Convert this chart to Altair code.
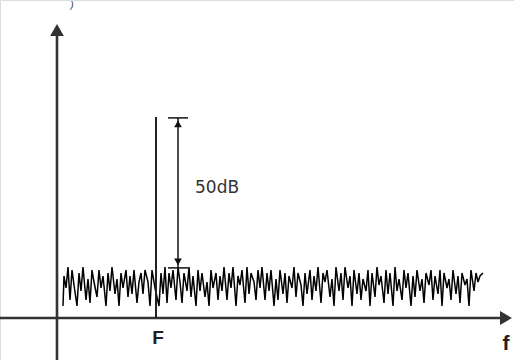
import altair as alt
import pandas as pd

# noise floor (frequency units, level in dB above the axis)
noise_f = [63, 64, 66, 68, 70, 72, 74, 77, 79, 81, 83, 86, 88, 90, 92, 94, 97, 99, 101, 103,
           106, 108, 110, 112, 115, 117, 119, 121, 123, 126, 128, 130, 132, 134, 137, 139, 141,
           143, 145, 148, 150, 152, 155, 159, 161, 163, 165, 167, 169, 171, 173, 176, 178, 180,
           182, 184, 187, 189, 191, 193, 196, 198, 200, 202, 205, 207, 209, 211, 213, 216, 218,
           220, 222, 224, 227, 229, 231, 233, 236, 238, 240, 242, 245, 247, 249, 251, 254, 256,
           258, 260, 262, 265, 267, 269, 271, 274, 276, 278, 280, 283, 285, 287, 289, 292, 294,
           296, 298, 301, 303, 305, 307, 310, 312, 314, 316, 318, 321, 323, 325, 327, 330, 332,
           334, 336, 339, 341, 343, 345, 348, 350, 352, 354, 357, 359, 361, 363, 366, 368, 370,
           372, 375, 377, 379, 381, 384, 386, 388, 390, 393, 395, 397, 399, 402, 404, 406, 408,
           411, 413, 415, 417, 420, 422, 424, 426, 429, 431, 433, 435, 438, 440, 442, 444, 447,
           449, 451, 453, 456, 458, 460, 462, 465, 467, 469, 471, 474, 476, 478, 480, 483]
noise_db = [4, 14, 10, 17, 6, 16, 11, 4, 15, 9, 17, 6, 13, 5, 16, 12, 7, 16, 10, 14,
            4, 15, 9, 17, 8, 13, 4, 15, 10, 16, 7, 14, 8, 16, 5, 12, 15,
            8, 16, 12, 4, 16, 10, 4, 15, 8, 17, 5, 15, 10, 16, 6, 17, 12,
            5, 15, 9, 17, 7, 14, 4, 16, 9, 15, 7, 12, 4, 16, 10, 15, 6,
            14, 9, 17, 6, 15, 10, 17, 4, 14, 11, 16, 5, 17, 8, 15, 12, 6,
            16, 10, 17, 6, 15, 9, 16, 4, 13, 6, 16, 8, 15, 5, 14, 10, 17,
            7, 15, 11, 4, 15, 8, 16, 6, 14, 9, 17, 5, 15, 12, 16, 7, 13,
            4, 17, 9, 15, 6, 17, 10, 14, 4, 16, 8, 15, 6, 13, 9, 16, 4,
            15, 7, 17, 11, 14, 5, 16, 8, 15, 4, 17, 9, 13, 6, 16, 10, 15,
            4, 14, 7, 16, 9, 13, 5, 15, 11, 16, 6, 14, 8, 16, 4, 15, 10,
            13, 6, 16, 8, 14, 5, 15, 11, 13, 4, 16, 9, 15, 12, 14, 15]

carrier_f = 156
carrier_db = 67
floor_db = 16.7
axis_origin_f = 57
x_axis_end = 506
y_axis_end = 97
arrow_f = 178
labels = ["50dB", "F", "f"]

xs = alt.Scale(domain=[0, 514], nice=False, zero=False)
ys = alt.Scale(domain=[-14, 106], nice=False, zero=False)

def X(field="x"):
    return alt.X(f"{field}:Q", scale=xs, axis=None)

def Y(field="y"):
    return alt.Y(f"{field}:Q", scale=ys, axis=None)

noise = alt.Chart(pd.DataFrame({"x": noise_f, "y": noise_db})).mark_line(
    color="#000", strokeWidth=1.5, strokeJoin="miter", strokeMiterLimit=2
).encode(x=X(), y=Y())

axes_df = pd.DataFrame({
    "x": [0, axis_origin_f], "x2": [x_axis_end, axis_origin_f],
    "y": [0, -14], "y2": [0, y_axis_end]})
axes = alt.Chart(axes_df).mark_rule(color="#333", strokeWidth=2.6).encode(
    x=X(), x2="x2:Q", y=Y(), y2="y2:Q")

heads_df = pd.DataFrame({"x": [axis_origin_f, x_axis_end], "y": [96, 0],
                         "s": ["triangle-up", "triangle-right"]})
heads = alt.Chart(heads_df).mark_point(filled=True, color="#333", size=190, opacity=1).encode(
    x=X(), y=Y(), shape=alt.Shape("s:N", scale=None))

spike = alt.Chart(pd.DataFrame({"x": [carrier_f], "y": [0], "y2": [carrier_db]})).mark_rule(
    color="#222", strokeWidth=2).encode(x=X(), y=Y(), y2="y2:Q")

dim_df = pd.DataFrame({
    "x": [arrow_f, arrow_f - 10, arrow_f - 10],
    "x2": [arrow_f, arrow_f + 10, arrow_f + 10],
    "y": [floor_db, carrier_db - 0.3, floor_db],
    "y2": [carrier_db - 0.3, carrier_db - 0.3, floor_db]})
dim = alt.Chart(dim_df).mark_rule(color="#111", strokeWidth=1.5).encode(
    x=X(), x2="x2:Q", y=Y(), y2="y2:Q")

tips_df = pd.DataFrame({"x": [arrow_f, arrow_f], "y": [carrier_db - 2.3, floor_db + 2],
                        "s": ["triangle-up", "triangle-down"]})
tips = alt.Chart(tips_df).mark_point(filled=True, color="#111", size=60, opacity=1).encode(
    x=X(), y=Y(), shape=alt.Shape("s:N", scale=None))

lab = alt.Chart(pd.DataFrame({"x": [195], "y": [43.3], "t": [labels[0]]})).mark_text(
    align="left", baseline="middle", fontSize=17, font="DejaVu Sans", color="#333"
).encode(x=X(), y=Y(), text="t:N")

F_lab = alt.Chart(pd.DataFrame({"x": [158], "y": [-6.5], "t": [labels[1]]})).mark_text(
    align="center", baseline="middle", fontSize=19, fontWeight="bold",
    font="Liberation Sans", color="#222").encode(x=X(), y=Y(), text="t:N")

f_lab = alt.Chart(pd.DataFrame({"x": [506], "y": [-8.5], "t": [labels[2]]})).mark_text(
    align="center", baseline="middle", fontSize=21, fontWeight="bold",
    font="Liberation Sans", color="#222").encode(x=X(), y=Y(), text="t:N")

paren = alt.Chart(pd.DataFrame({"x": [72], "y": [105.8], "t": [")"]})).mark_text(
    align="center", baseline="top", fontSize=9, fontStyle="italic",
    font="Liberation Sans", color="#222").encode(x=X(), y=Y(), text="t:N")

chart = alt.layer(axes, heads, noise, spike, dim, tips, lab, F_lab, f_lab, paren).properties(
    width=514, height=360, padding=0, autosize=alt.AutoSizeParams(type="none")
).configure_view(stroke=None).configure(background="white")

chart.save("out.html", embed_options={"renderer": "svg", "actions": False})
